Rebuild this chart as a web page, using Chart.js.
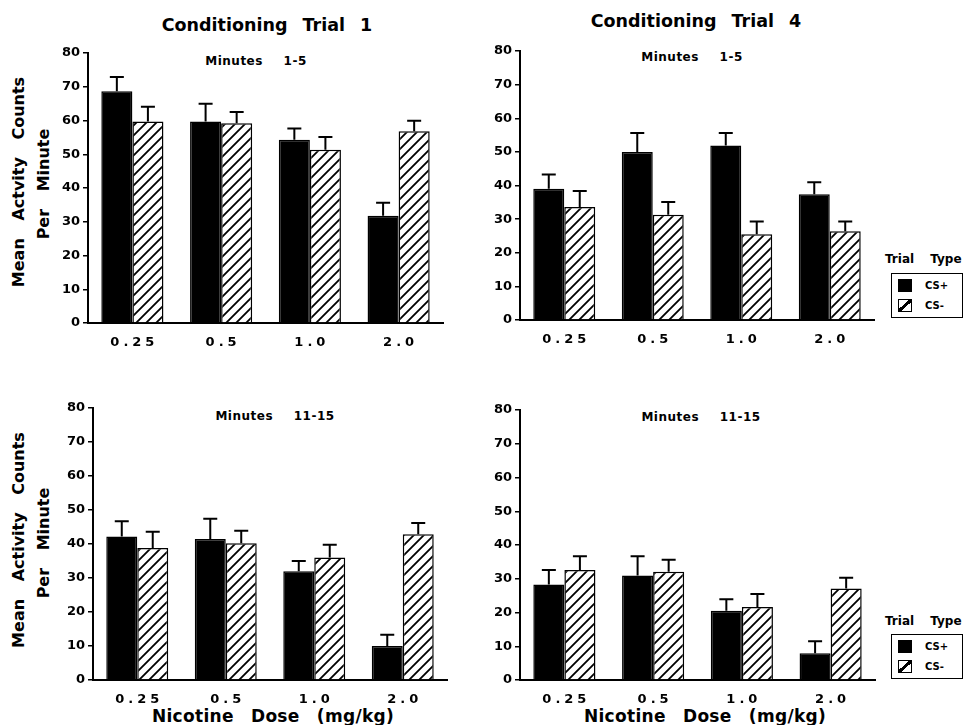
<!DOCTYPE html>
<html>
<head>
<meta charset="utf-8">
<script src="https://cdn.jsdelivr.net/npm/chart.js@4"></script>
<style>
  body { margin: 0; background: #fff; width: 964px; height: 725px; overflow: hidden; position: relative;
         font-family: "DejaVu Sans", sans-serif; font-weight: bold; color: #000; }
  canvas { position: absolute; }
  .txt { position: absolute; white-space: nowrap; transform: translate(-50%, -50%); }
  .title { font-size: 17.5px; word-spacing: 9px; }
  .sub { font-size: 12px; letter-spacing: 0.5px; word-spacing: 16px; }
  .xlab { font-size: 17px; word-spacing: 11px; letter-spacing: 0.3px; }
  .ylab { font-size: 16px; word-spacing: 12px; transform: translate(-50%, -50%) rotate(-90deg); }
  .legtitle { font-size: 12px; word-spacing: 12px; transform: none; }
  .legbox { position: absolute; border: 1.5px solid #000; width: 72px; height: 45px; box-sizing: border-box; }
  .sw { position: absolute; left: 6px; width: 14px; height: 13px; box-sizing: border-box; border: 1.5px solid #000; }
  .sw.full { background: #000; top: 5px; }
  .sw.hatch { top: 25px; background: linear-gradient(to bottom right, #fff 40%, #000 40%, #000 60%, #fff 60%); }
  .lt { position: absolute; left: 33px; font-size: 10px; line-height: 13px; }
</style>
</head>
<body>

<div class="txt title" style="left:267px; top:25px;">Conditioning Trial 1</div>
<div class="txt title" style="left:696px; top:21px;">Conditioning Trial 4</div>

<div class="txt sub" style="left:256px; top:61px;">Minutes 1-5</div>
<div class="txt sub" style="left:692px; top:57px;">Minutes 1-5</div>
<div class="txt sub" style="left:275px; top:416px;">Minutes 11-15</div>
<div class="txt sub" style="left:701px; top:417px;">Minutes 11-15</div>

<div class="txt ylab" style="left:18px; top:182px;">Mean Actvity Counts</div>
<div class="txt ylab" style="left:43px; top:184px;">Per Minute</div>
<div class="txt ylab" style="left:18px; top:540px;">Mean Activity Counts</div>
<div class="txt ylab" style="left:43px; top:543px;">Per Minute</div>

<div class="txt xlab" style="left:273px; top:716px;">Nicotine Dose (mg/kg)</div>
<div class="txt xlab" style="left:705px; top:716px;">Nicotine Dose (mg/kg)</div>

<div class="txt legtitle" style="left:885px; top:252px;">Trial Type</div>
<div class="legbox" style="left:891px; top:273px;">
  <div class="sw full"></div><div class="lt" style="top:5px;">CS+</div>
  <div class="sw hatch"></div><div class="lt" style="top:25px;">CS-</div>
</div>
<div class="txt legtitle" style="left:885px; top:614px;">Trial Type</div>
<div class="legbox" style="left:891px; top:634px;">
  <div class="sw full"></div><div class="lt" style="top:5px;">CS+</div>
  <div class="sw hatch"></div><div class="lt" style="top:25px;">CS-</div>
</div>

<canvas id="p1"></canvas>
<canvas id="p2"></canvas>
<canvas id="p3"></canvas>
<canvas id="p4"></canvas>

<script>
// Nicotine dose (mg/kg)
const doses = ['0.25', '0.5', '1.0', '2.0'];
const yTicks = [0, 10, 20, 30, 40, 50, 60, 70, 80];

// Trial 1, minutes 1-5
const t1EarlyPlus = [68.7, 59.7, 54.3, 31.8];
const t1EarlyPlusErr = [4.2, 5.3, 3.3, 3.8];
const t1EarlyMinus = [59.7, 59.2, 51.3, 56.8];
const t1EarlyMinusErr = [4.4, 3.3, 3.8, 3.1];

// Trial 4, minutes 1-5
const t4EarlyPlus = [39.0, 50.0, 51.9, 37.4];
const t4EarlyPlusErr = [4.3, 5.6, 3.7, 3.6];
const t4EarlyMinus = [33.6, 31.3, 25.5, 26.4];
const t4EarlyMinusErr = [4.8, 3.8, 3.8, 2.9];

// Trial 1, minutes 11-15
const t1LatePlus = [42.2, 41.5, 32.0, 10.0];
const t1LatePlusErr = [4.5, 5.9, 3.0, 3.3];
const t1LateMinus = [38.8, 40.2, 36.0, 42.9];
const t1LateMinusErr = [4.8, 3.7, 3.8, 3.3];

// Trial 4, minutes 11-15
const t4LatePlus = [28.3, 31.0, 20.5, 7.9];
const t4LatePlusErr = [4.3, 5.7, 3.4, 3.6];
const t4LateMinus = [32.6, 32.1, 21.6, 27.1];
const t4LateMinusErr = [4.1, 3.5, 3.9, 3.2];

const tickFont = 'bold 13px "DejaVu Sans"';

// diagonal hatch for the CS- bars
function makeHatch() {
  const c = document.createElement('canvas');
  c.width = 10; c.height = 10;
  const g = c.getContext('2d');
  g.fillStyle = '#fff';
  g.fillRect(0, 0, 10, 10);
  g.strokeStyle = '#000';
  g.lineWidth = 1.8;
  g.beginPath();
  g.moveTo(-1, 11); g.lineTo(11, -1);
  g.moveTo(-1, 1); g.lineTo(1, -1);
  g.moveTo(9, 11); g.lineTo(11, 9);
  g.stroke();
  return g.createPattern(c, 'repeat');
}
const hatch = makeHatch();

// upper error bars (T shape)
const errorBars = {
  id: 'errorBars',
  afterDatasetsDraw(chart) {
    const ctx = chart.ctx;
    const y = chart.scales.y;
    chart.data.datasets.forEach((ds, di) => {
      const meta = chart.getDatasetMeta(di);
      meta.data.forEach((bar, i) => {
        const top = y.getPixelForValue(ds.data[i] + ds.errors[i]);
        ctx.save();
        ctx.strokeStyle = '#000';
        ctx.lineWidth = 2;
        ctx.beginPath();
        ctx.moveTo(bar.x, bar.y);
        ctx.lineTo(bar.x, top);
        ctx.moveTo(bar.x - 7, top);
        ctx.lineTo(bar.x + 7, top);
        ctx.stroke();
        ctx.restore();
      });
    });
  }
};

// dose labels, spaced out like the typewriter-style original
const spacedDoseLabels = {
  id: 'spacedDoseLabels',
  afterDraw(chart) {
    const ctx = chart.ctx;
    const x = chart.scales.x;
    const gap = 4;
    ctx.save();
    ctx.font = tickFont;
    ctx.fillStyle = '#000';
    ctx.textBaseline = 'middle';
    ctx.textAlign = 'left';
    chart.data.labels.forEach((lab, i) => {
      const chars = lab.split('');
      const widths = chars.map(ch => ctx.measureText(ch).width);
      const total = widths.reduce((a, b) => a + b, 0) + gap * (chars.length - 1);
      let cx = x.getPixelForValue(i) - total / 2;
      chars.forEach((ch, k) => {
        ctx.fillText(ch, cx, chart.chartArea.bottom + 20);
        cx += widths[k] + gap;
      });
    });
    ctx.restore();
  }
};

function makePanel(id, pos, plus, plusErr, minus, minusErr) {
  const yW = 40, topPad = 12, rightPad = 15, xH = 32;
  const canvas = document.getElementById(id);
  canvas.width = yW + pos.w + rightPad;
  canvas.height = topPad + pos.h + xH;
  canvas.style.left = (pos.left - yW) + 'px';
  canvas.style.top = (pos.top - topPad) + 'px';

  return new Chart(canvas, {
    type: 'bar',
    data: {
      labels: doses,
      datasets: [
        { label: 'CS+', data: plus, errors: plusErr, backgroundColor: '#000',
          borderColor: '#000', borderWidth: 1.5 },
        { label: 'CS-', data: minus, errors: minusErr, backgroundColor: hatch,
          borderColor: '#000', borderWidth: 1.5 }
      ]
    },
    options: {
      responsive: false,
      animation: false,
      devicePixelRatio: 1,
      layout: { padding: { top: topPad, right: rightPad, left: 0, bottom: 0 } },
      datasets: { bar: { categoryPercentage: 0.7, barPercentage: 1.0 } },
      scales: {
        x: {
          grid: { display: false, drawTicks: false },
          border: { display: true, color: '#000', width: 2 },
          ticks: { display: false },
          afterFit(s) { s.height = xH; }
        },
        y: {
          min: 0, max: 80,
          afterBuildTicks(s) {
            const t = [];
            for (let v = 0; v <= 80; v += 5) t.push({ value: v });
            s.ticks = t;
          },
          grid: { drawOnChartArea: false, drawTicks: true, tickLength: 5, color: '#000', lineWidth: 1.5 },
          border: { display: true, color: '#000', width: 2 },
          ticks: {
            color: '#000', padding: 3,
            font: { family: 'DejaVu Sans', size: 13, weight: 'bold' },
            callback: v => yTicks.includes(v) ? String(v) : ''
          },
          afterFit(s) { s.width = yW; }
        }
      },
      plugins: {
        legend: { display: false },
        tooltip: { enabled: false }
      }
    },
    plugins: [errorBars, spacedDoseLabels]
  });
}

makePanel('p1', { left: 88, top: 53, w: 355, h: 270 }, t1EarlyPlus, t1EarlyPlusErr, t1EarlyMinus, t1EarlyMinusErr);
makePanel('p2', { left: 520, top: 51, w: 354, h: 269 }, t4EarlyPlus, t4EarlyPlusErr, t4EarlyMinus, t4EarlyMinusErr);
makePanel('p3', { left: 93, top: 408, w: 354, h: 272 }, t1LatePlus, t1LatePlusErr, t1LateMinus, t1LateMinusErr);
makePanel('p4', { left: 520, top: 410, w: 355, h: 270 }, t4LatePlus, t4LatePlusErr, t4LateMinus, t4LateMinusErr);
</script>
</body>
</html>
